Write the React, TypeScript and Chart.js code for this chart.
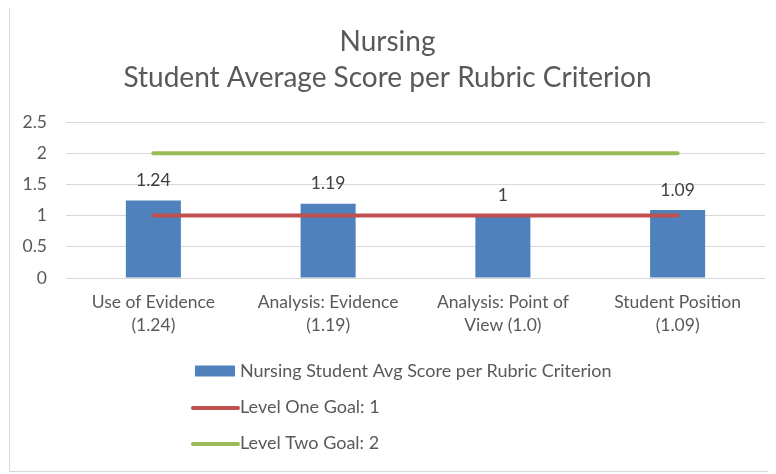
import React, { useEffect, useRef } from 'react';
import { Chart, registerables } from 'chart.js';

Chart.register(...registerables);

const titleLines = ['Nursing', 'Student Average Score per Rubric Criterion'];
const categories = [
  ['Use of Evidence', '(1.24)'],
  ['Analysis: Evidence', '(1.19)'],
  ['Analysis: Point of', 'View (1.0)'],
  ['Student Position', '(1.09)'],
];
const avgScores = [1.24, 1.19, 1.0, 1.09];
const levelOneGoal = [1, 1, 1, 1];
const levelTwoGoal = [2, 2, 2, 2];
const seriesNames = [
  'Nursing Student Avg Score per Rubric Criterion',
  'Level One Goal: 1',
  'Level Two Goal: 2',
];
const yMin = 0;
const yMax = 2.5;
const yStep = 0.5;

const FONT = 'Lato, "Open Sans", sans-serif';
const TEXT = '#595959';
const SIZE = 17.5;

const dataLabelPlugin = {
  id: 'barValueLabels',
  afterDatasetsDraw(chart: any) {
    const ctx = chart.ctx;
    const meta = chart.getDatasetMeta(0);
    const ds = chart.data.datasets[0];
    ctx.save();
    ctx.font = `${SIZE}px ${FONT}`;
    ctx.fillStyle = '#404040';
    ctx.textAlign = 'center';
    ctx.textBaseline = 'middle';
    meta.data.forEach((bar: any, i: number) => {
      ctx.fillText(String(ds.data[i]), bar.x, bar.y - 20);
    });
    ctx.restore();
  },
};

const verticalLegendPlugin = {
  id: 'verticalLegend',
  afterDraw(chart: any) {
    const ctx = chart.ctx;
    const area = chart.chartArea;
    const left = area.left + 127;
    const rows = [93, 129, 165];
    ctx.save();
    ctx.font = `18px ${FONT}`;
    ctx.textBaseline = 'middle';
    ctx.textAlign = 'left';
    chart.data.datasets.forEach((ds: any, i: number) => {
      const y = area.bottom + rows[i];
      if (ds.type === 'bar' || !ds.type) {
        ctx.fillStyle = ds.backgroundColor;
        ctx.fillRect(left + 2, y - 5.5, 40, 11);
      } else {
        ctx.strokeStyle = ds.borderColor;
        ctx.lineWidth = 4;
        ctx.lineCap = 'round';
        ctx.beginPath();
        ctx.moveTo(left, y + 1);
        ctx.lineTo(left + 45, y + 1);
        ctx.stroke();
      }
      ctx.fillStyle = TEXT;
      ctx.fillText(ds.label, left + 47, y);
    });
    ctx.restore();
  },
};

export default function App() {
  const canvasRef = useRef<HTMLCanvasElement | null>(null);

  useEffect(() => {
    const canvas = canvasRef.current;
    if (!canvas) return;
    const chart = new Chart(canvas, {
      type: 'bar',
      data: {
        labels: categories,
        datasets: [
          {
            type: 'bar',
            label: seriesNames[0],
            data: avgScores,
            backgroundColor: '#4F81BD',
            borderColor: '#4F81BD',
            borderWidth: 0,
            barPercentage: 0.315,
            categoryPercentage: 1,
            order: 2,
          } as any,
          {
            type: 'line',
            label: seriesNames[1],
            data: levelOneGoal,
            borderColor: '#C0504D',
            backgroundColor: '#C0504D',
            borderWidth: 4,
            pointRadius: 0,
            borderCapStyle: 'round',
            fill: false,
            order: 1,
          } as any,
          {
            type: 'line',
            label: seriesNames[2],
            data: levelTwoGoal,
            borderColor: '#9BBB59',
            backgroundColor: '#9BBB59',
            borderWidth: 4,
            pointRadius: 0,
            borderCapStyle: 'round',
            fill: false,
            order: 1,
          } as any,
        ],
      },
      options: {
        animation: false,
        responsive: false,
        maintainAspectRatio: false,
        layout: { padding: { top: 0, left: 0, right: 11, bottom: 133 } },
        plugins: {
          legend: { display: false },
          tooltip: { enabled: false },
          title: {
            display: true,
            text: titleLines,
            color: TEXT,
            font: { family: FONT, size: 28, weight: 'normal', lineHeight: 36 / 28 },
            padding: { top: 18, bottom: 26 },
          },
        },
        scales: {
          x: {
            grid: { display: false, drawTicks: false },
            border: { display: false },
            ticks: {
              color: TEXT,
              font: { family: FONT, size: SIZE, lineHeight: 23 / SIZE },
              padding: 13,
              maxRotation: 0,
              autoSkip: false,
            },
            afterFit(scale: any) {
              scale.height = 60;
            },
          },
          y: {
            min: yMin,
            max: yMax,
            grid: { color: '#d9d9d9', drawTicks: false, lineWidth: 1 },
            border: { display: false },
            ticks: {
              stepSize: yStep,
              color: TEXT,
              font: { family: FONT, size: SIZE },
              padding: 19,
              callback: (v: any) => String(v),
            },
            afterFit(scale: any) {
              scale.width = 56;
            },
          },
        },
      } as any,
      plugins: [dataLabelPlugin, verticalLegendPlugin],
    });
    return () => chart.destroy();
  }, []);

  return (
    <div
      style={{
        width: 767,
        height: 467,
        borderTop: '1px solid #d9d9d9',
        borderLeft: '1px solid #d9d9d9',
        borderBottom: '1px solid #d9d9d9',
        boxSizing: 'border-box',
        marginTop: -3,
        marginLeft: 1,
        background: '#fff',
      }}
    >
      <canvas ref={canvasRef} width={766} height={465} style={{ display: 'block', width: 766, height: 465 }} />
    </div>
  );
}
